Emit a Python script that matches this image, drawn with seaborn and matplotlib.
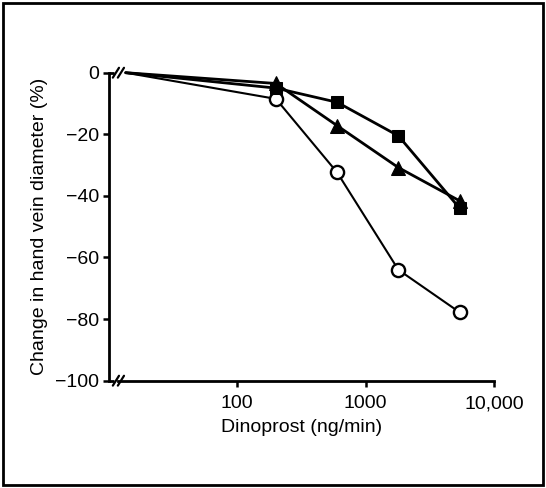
import matplotlib
matplotlib.use("Agg")
import matplotlib.pyplot as plt
import seaborn as sns
import pandas as pd
from matplotlib.ticker import FixedLocator, NullLocator

# ---- data ----
doses = [0, 200, 600, 1800, 5400]            # ng/min; 0 = baseline drawn before the axis break
square = [0, -5.0, -9.6, -20.5, -44.0]
triangle = [0, -3.5, -17.2, -30.8, -41.6]
circle = [0, -8.5, -32.4, -64.0, -77.8]
x_ticks = [100, 1000, 10000]
x_ticklabels = ["100", "1000", "10,000"]
y_ticks = [0, -20, -40, -60, -80, -100]
y_ticklabels = ["0", "\u221220", "\u221240", "\u221260", "\u221280", "\u2212100"]

ZERO_POS = 13.5  # where the zero dose sits left of the break

sns.set_theme(style="white")
plt.rcParams["font.family"] = ["Liberation Sans", "DejaVu Sans"]

FS = 14
FW = "normal"

fig = plt.figure(figsize=(5.46, 4.88), dpi=100)
ax = fig.add_axes([0.1996, 0.2199, 0.7051, 0.6311])
ax.set_xscale("log")

xpos = [ZERO_POS if d == 0 else d for d in doses]
df = pd.DataFrame({"x": xpos, "square": square, "triangle": triangle, "circle": circle})

common = dict(color="black", markevery=slice(1, None), clip_on=False, zorder=3)
sns.lineplot(data=df, x="x", y="circle", ax=ax, marker="o", markersize=9.5,
             markerfacecolor="white", markeredgecolor="black", markeredgewidth=1.7,
             linewidth=1.5, **common)
sns.lineplot(data=df, x="x", y="triangle", ax=ax, marker="^", markersize=10,
             markerfacecolor="black", markeredgecolor="black",
             linewidth=2.0, **common)
sns.lineplot(data=df, x="x", y="square", ax=ax, marker="s", markersize=9,
             markerfacecolor="black", markeredgecolor="black",
             linewidth=2.0, **common)

ax.set_xlim(10, 10000)
ax.set_ylim(-100, 0)

ax.xaxis.set_major_locator(FixedLocator(x_ticks))
ax.xaxis.set_minor_locator(NullLocator())
ax.set_xticklabels(x_ticklabels)
ax.set_yticks(y_ticks)
ax.set_yticklabels(y_ticklabels)

for s in ["top", "right"]:
    ax.spines[s].set_visible(False)
ax.spines["left"].set_linewidth(2.0)
ax.spines["left"].set_color("black")
ax.spines["bottom"].set_linewidth(2.0)
ax.spines["bottom"].set_color("black")
ax.spines["bottom"].set_bounds(11.8, 10000)

ax.tick_params(axis="both", direction="out", length=4.5, width=1.8, color="black",
               labelsize=FS, labelcolor="black")
ax.tick_params(axis="y", pad=2.5, left=True)
ax.tick_params(axis="x", pad=6, bottom=True)
for lab in ax.get_xticklabels() + ax.get_yticklabels():
    lab.set_fontweight(FW)

ax.set_xlabel("Dinoprost (ng/min)", fontsize=FS, fontweight=FW, color="black", labelpad=5)
ax.set_ylabel("Change in hand vein diameter (%)", fontsize=FS, fontweight=FW,
              color="black", labelpad=5)

# axis-break decorations (axes fraction coordinates)
tr = ax.transAxes
ax.plot([0, 0.012], [0, 0], transform=tr, color="black", lw=2.0, clip_on=False, solid_capstyle="butt")
ax.plot([0, 0.012], [1, 1], transform=tr, color="black", lw=2.0, clip_on=False, solid_capstyle="butt")
for yb in (0, 1):
    for xb in (0.018, 0.031):
        ax.plot([xb - 0.008, xb + 0.008], [yb - 0.016, yb + 0.016], transform=tr,
                color="black", lw=1.6, clip_on=False)

# outer frame
fig.patches.append(plt.Rectangle((0.006, 0.006), 0.988, 0.988, transform=fig.transFigure,
                                 fill=False, edgecolor="black", linewidth=2.0))

fig.savefig("out.png", dpi=100)
